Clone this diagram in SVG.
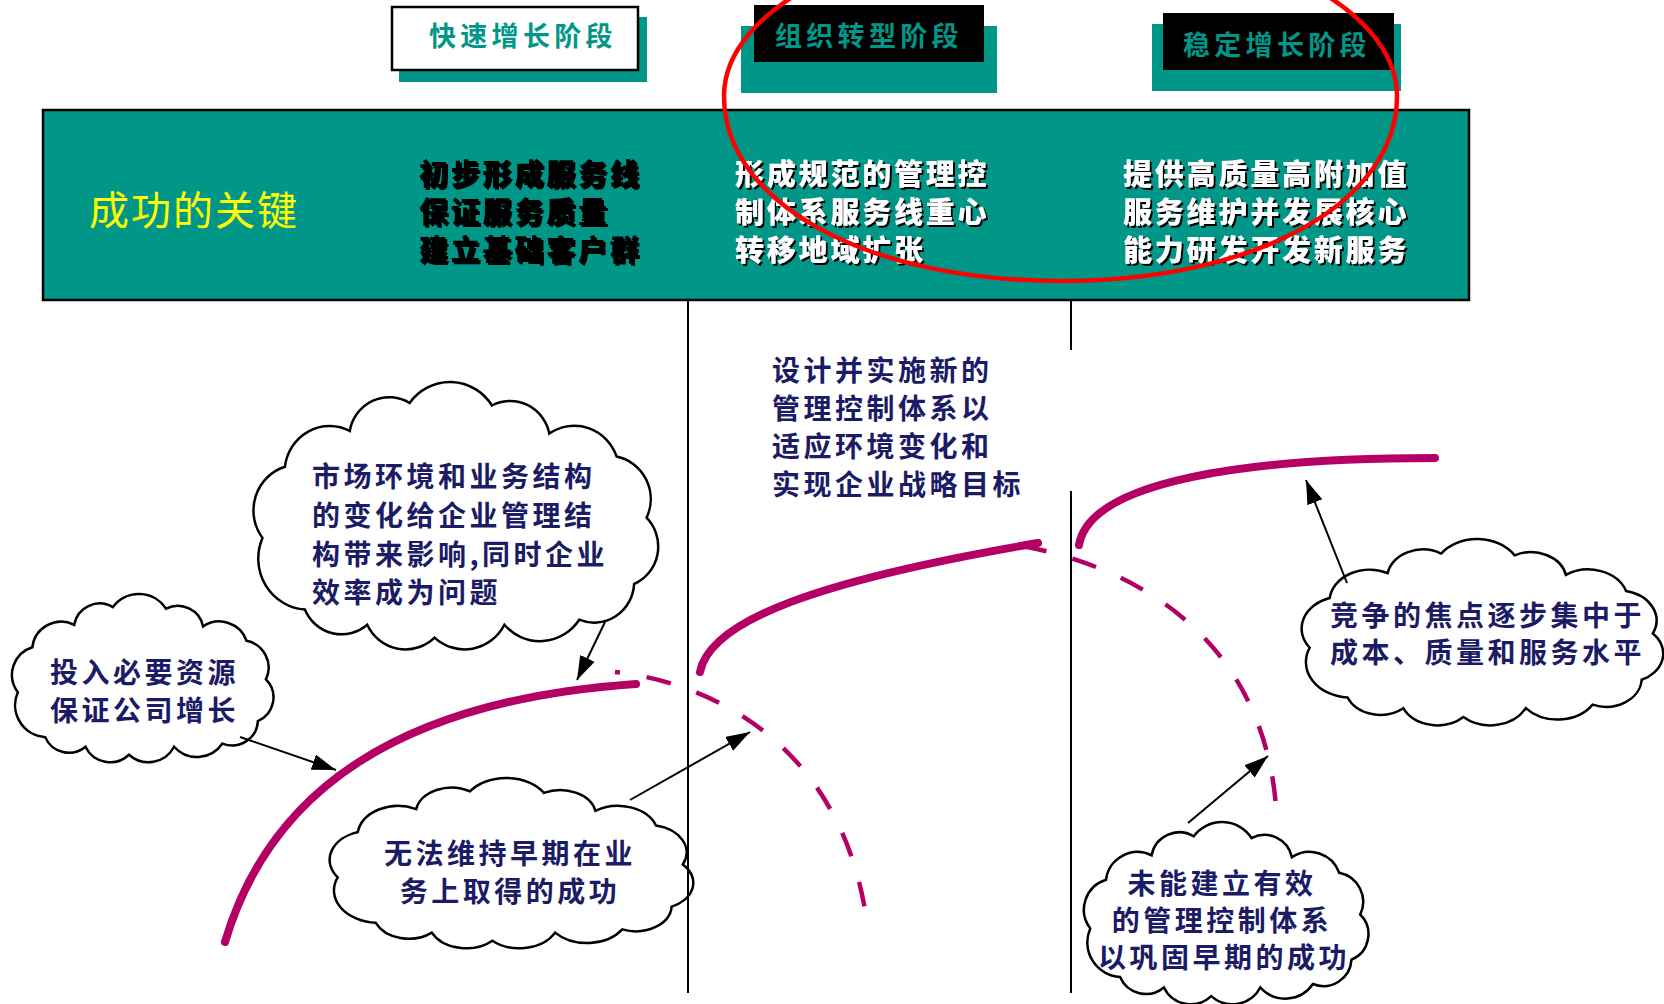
<svg xmlns="http://www.w3.org/2000/svg" width="1664" height="1004" viewBox="0 0 1664 1004">
<defs>
<style>
.cjk{font-family:'Noto Sans CJK SC','Noto Sans CJK JP',sans-serif}
.ttl{font-size:27px;font-weight:700;fill:#009688;letter-spacing:4.3px}
.band{font-size:29px;font-weight:900;letter-spacing:2.8px}
.ct{font-size:28px;font-weight:700;fill:#1b1b66;letter-spacing:3.5px}
.cloud{fill:#fff;stroke:#000;stroke-width:2.5}
.curve{fill:none;stroke:#b40064;stroke-width:8;stroke-linecap:round}
.dash{fill:none;stroke:#b40064;stroke-width:4.5;stroke-dasharray:25 27}
.arrow{stroke:#000;stroke-width:2;fill:none;marker-end:url(#ah)}
.div{stroke:#000;stroke-width:2}
.teal{fill:#009688}
</style>
<marker id="ah" markerUnits="userSpaceOnUse" markerWidth="26" markerHeight="18" refX="24" refY="8" orient="auto" viewBox="0 0 26 18">
<path d="M0,0 L24,8 L0,16 z" fill="#000"/>
</marker>
<filter id="sh" x="-5%" y="-20%" width="115%" height="160%">
<feDropShadow dx="2" dy="2" stdDeviation="0" flood-color="#000" flood-opacity="1"/>
</filter>
<path id="cloudShape" vector-effect="non-scaling-stroke" d="M3,58 A18,18 0 0 1 12,30 A18,18 0 0 1 38,16 A16,16 0 0 1 62,5 A20,20 0 0 1 95,6 A16,16 0 0 1 118,17 A18,18 0 0 1 145,26 A17,17 0 0 1 157,50 A16,16 0 0 1 152,76 A16,16 0 0 1 130,90 A19,19 0 0 1 100,92 A18,18 0 0 1 72,97 A17,17 0 0 1 45,92 A16,16 0 0 1 20,86 A20,20 0 0 1 3,58 Z"/>
</defs>

<rect width="1664" height="1004" fill="#fff"/>

<!-- stage titles -->
<g id="stage1">
<rect class="teal" x="399" y="17" width="248" height="65"/>
<rect x="392" y="7" width="246" height="63" fill="#fff" stroke="#000" stroke-width="2.5"/>
<text class="cjk ttl" x="429" y="46">快速增长阶段</text>
</g>
<g id="stage2">
<rect class="teal" x="741" y="26" width="256" height="67"/>
<rect x="754" y="5" width="230" height="57" fill="#000"/>
<text class="cjk ttl" x="775" y="46">组织转型阶段</text>
</g>
<g id="stage3">
<rect class="teal" x="1152" y="24" width="249" height="67"/>
<rect x="1163" y="13" width="231" height="57" fill="#000"/>
<text class="cjk ttl" x="1183" y="55">稳定增长阶段</text>
</g>

<!-- key band -->
<g id="keys">
<rect class="teal" x="43" y="110" width="1426" height="190" stroke="#000" stroke-width="2.5"/>
<text class="cjk" x="89" y="225" font-size="40" fill="#ffff00" letter-spacing="2">成功的关键</text>
<g class="cjk band" fill="#000" filter="url(#sh)">
<text x="419" y="185">初步形成服务线</text>
<text x="419" y="223">保证服务质量</text>
<text x="419" y="261">建立基础客户群</text>
</g>
<g class="cjk band" fill="#fff" filter="url(#sh)">
<text x="735" y="185">形成规范的管理控</text>
<text x="735" y="223">制体系服务线重心</text>
<text x="735" y="261">转移地域扩张</text>
<text x="1123" y="185">提供高质量高附加值</text>
<text x="1123" y="223">服务维护并发展核心</text>
<text x="1123" y="261">能力研发开发新服务</text>
</g>
</g>

<!-- free text -->
<g id="design-note">
<text class="cjk ct" x="772" y="381">设计并实施新的</text>
<text class="cjk ct" x="772" y="419">管理控制体系以</text>
<text class="cjk ct" x="772" y="457">适应环境变化和</text>
<text class="cjk ct" x="772" y="495">实现企业战略目标</text>
</g>

<!-- curves -->
<g id="curves">
<path class="curve" d="M225,942 C270,790 400,700 636,684"/>
<path class="dash" stroke-dashoffset="20" d="M615,672 C730,685 845,760 867,923"/>
<path class="curve" d="M700,672 C710,620 820,580 1038,543"/>
<path class="dash" d="M1022,546 C1150,570 1270,650 1277,822"/>
<path class="curve" d="M1079,545 C1090,480 1250,458 1435,458"/>
</g>

<!-- clouds -->
<g id="cloud-market">
<use href="#cloudShape" class="cloud" transform="translate(255,390.2) scale(2.494,2.55)"/>
<text class="cjk ct" x="312" y="487">市场环境和业务结构</text>
<text class="cjk ct" x="312" y="526">的变化给企业管理结</text>
<text class="cjk ct" x="312" y="565">构带来影响,同时企业</text>
<text class="cjk ct" x="312" y="603">效率成为问题</text>
</g>
<g id="cloud-invest">
<use href="#cloudShape" class="cloud" transform="translate(13,599.1) scale(1.611,1.605)"/>
<text class="cjk ct" x="50" y="683">投入必要资源</text>
<text class="cjk ct" x="50" y="721">保证公司增长</text>
</g>
<g id="cloud-fail1">
<use href="#cloudShape" class="cloud" transform="translate(331,783.2) scale(2.241,1.624)"/>
<text class="cjk ct" x="510" y="864" text-anchor="middle">无法维持早期在业</text>
<text class="cjk ct" x="510" y="902" text-anchor="middle">务上取得的成功</text>
</g>
<g id="cloud-fail2">
<use href="#cloudShape" class="cloud" transform="translate(1085,827.6) scale(1.753,1.738)"/>
<text class="cjk ct" x="1222" y="894" text-anchor="middle">未能建立有效</text>
<text class="cjk ct" x="1222" y="931" text-anchor="middle">的管理控制体系</text>
<text class="cjk ct" x="1224" y="968" text-anchor="middle">以巩固早期的成功</text>
</g>
<g id="cloud-compete">
<use href="#cloudShape" class="cloud" transform="translate(1303,544.7) scale(2.228,1.777)"/>
<text class="cjk ct" x="1330" y="626">竞争的焦点逐步集中于</text>
<text class="cjk ct" x="1330" y="663">成本、质量和服务水平</text>
</g>

<!-- dividers -->
<g id="dividers">
<line class="div" x1="688" y1="300" x2="688" y2="993"/>
<line class="div" x1="1071" y1="300" x2="1071" y2="350"/>
<line class="div" x1="1071" y1="491" x2="1071" y2="993"/>
</g>

<!-- arrows -->
<g id="connectors">
<line class="arrow" x1="240" y1="737" x2="336" y2="770"/>
<line class="arrow" x1="605" y1="622" x2="577" y2="680"/>
<line class="arrow" x1="630" y1="800" x2="750" y2="732"/>
<line class="arrow" x1="1188" y1="823" x2="1268" y2="756"/>
<line class="arrow" x1="1347" y1="583" x2="1306" y2="480"/>
</g>

<!-- red highlight ellipse -->
<g id="highlight">
<path d="M724,96 C724,5.4 875.4,-68 1061,-68 C1246.6,-68 1397,5.4 1397,96 C1397,203 1256,281 1061,281 C866,281 724,203 724,96 Z" fill="none" stroke="#ff0000" stroke-width="4.5"/>
</g>
</svg>
